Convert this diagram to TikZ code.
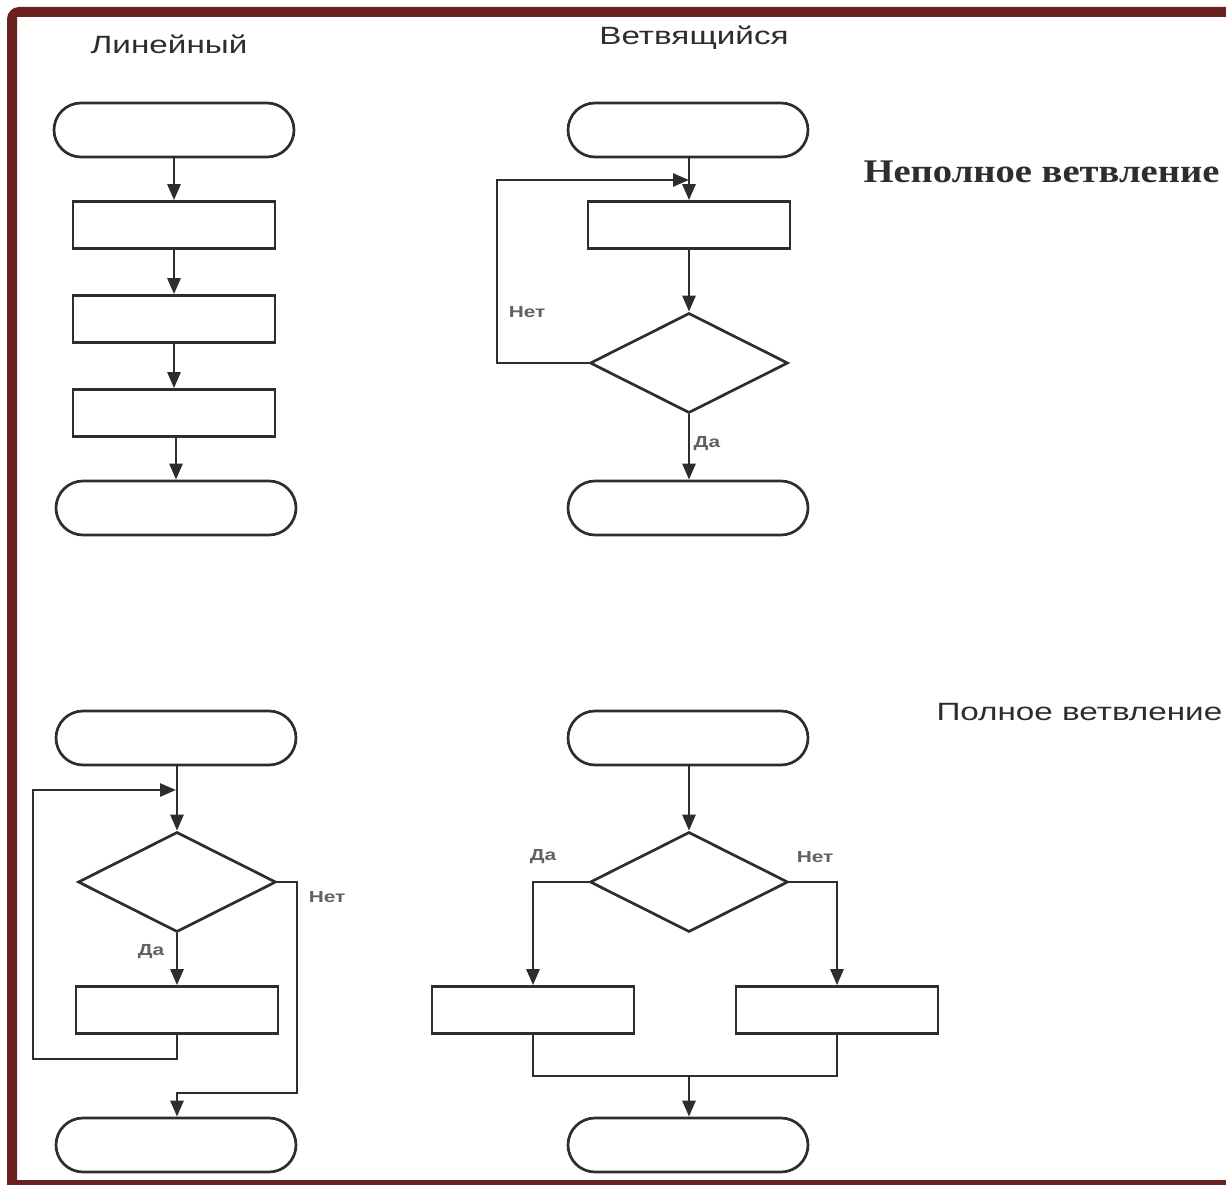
\documentclass[tikz,border=0pt]{standalone}
\usepackage{fontspec}
\setmainfont{Liberation Sans}
\newfontfamily\serifbold{Liberation Serif}
\usetikzlibrary{shapes.geometric,arrows.meta,calc}
\definecolor{framered}{RGB}{105,34,34}
\definecolor{ink}{RGB}{45,45,45}
\newcommand{\wide}[2]{\scalebox{#1}[1]{#2}}
\tikzset{
  line/.style={draw=ink, line width=2.7pt},
  arr/.style={line, -{Triangle[length=16pt,width=13pt]}},
  term/.style={line, rounded corners=27pt, minimum width=240pt, minimum height=54pt, inner sep=0pt},
  proc/.style={line, rectangle, minimum width=202pt, minimum height=47pt, inner sep=0pt},
  cond/.style={line, diamond, minimum width=198pt, minimum height=100pt, inner sep=0pt, aspect=1.98},
  title/.style={font=\fontsize{25}{30}\selectfont, text=ink},
  lab/.style={font=\bfseries\fontsize{16}{19}\selectfont, text=ink!75},
}
\begin{document}
\begin{tikzpicture}[x=1pt, y=-1pt]
\useasboundingbox (0,0) rectangle (1226,1185);
% page frame: bars on the left, top and bottom, rounded at the top-left corner
\fill[framered]
  (7,1185) -- (7,19) arc[start angle=180, end angle=90, radius=12pt]
  -- (1226,7) -- (1226,17) -- (17,17) -- (17,1180) -- (1226,1180) -- (1226,1185) -- cycle;

% headings
\node[title] (hLin) at (169,44) {\wide{1.33}{Линейный}};
\node[title] (hBr) at (694,38) {\wide{1.33}{Ветвящийся}};
\node[font=\serifbold\bfseries\fontsize{33}{38}\selectfont, text=ink, anchor=west] (hPart) at (860,172) {\wide{1.17}{Неполное ветвление}};
\node[title, anchor=west] (hFull) at (933,712) {\wide{1.33}{Полное ветвление}};

% linear
\node[term] (a1) at (174,130) {};
\node[proc] (a2) at (174,225) {};
\node[proc] (a3) at (174,319) {};
\node[proc] (a4) at (174,413) {};
\node[term] (a5) at (176,508) {};
\draw[arr] (a1) -- (a2);
\draw[arr] (a2) -- (a3);
\draw[arr] (a3) -- (a4);
\draw[arr] (a4.south -| a5.north) -- (a5);

% partial branching
\node[term] (b1) at (688,130) {};
\node[proc] (b2) at (689,225) {};
\node[cond] (b3) at (689,363) {};
\node[term] (b4) at (688,508) {};
\coordinate (bj) at (689,180);
\draw[arr] (b1.south -| b2.north) -- (b2);
\draw[arr] (b2) -- (b3);
\draw[arr] (b3.south) -- node[lab, right, pos=0.45] {\wide{1.3}{Да}} (b4.north -| b3.south);
\draw[arr] (b3.west) -- (497,363) -- (497,180) -- (bj);
\node[lab] (bno) at (527,312) {\wide{1.3}{Нет}};

% loop
\node[term] (c1) at (176,738) {};
\node[cond] (c2) at (177,882) {};
\node[proc] (c3) at (177,1010) {};
\node[term] (c4) at (176,1145) {};
\coordinate (cj) at (177,790);
\coordinate (ck) at (297,1093);
\draw[arr] (c1.south -| c2.north) -- (c2);
\draw[arr] (c2) -- (c3);
\node[lab] (cyes) at (151,952) {\wide{1.3}{Да}};
\draw[arr] (c3.south) -- (177,1059) -- (33,1059) -- (33,790) -- ($(cj)+(-1,0)$);
\draw[arr] (c2.east) -| (ck) -- (ck -| c2.south) -- (c4.north -| c2.south);
\node[lab] (cno) at (327,897) {\wide{1.3}{Нет}};

% full branching
\node[term] (d1) at (688,738) {};
\node[cond] (d2) at (689,882) {};
\node[proc] (d3) at (533,1010) {};
\node[proc] (d4) at (837,1010) {};
\node[term] (d5) at (688,1145) {};
\coordinate (dm) at (689,1076);
\draw[arr] (d1.south -| d2.north) -- (d2);
\draw[arr] (d2.west) -| (d3.north);
\draw[arr] (d2.east) -| (d4.north);
\draw[line] (d3.south) |- (dm) -| (d4.south);
\draw[arr] (dm) -- (d5.north -| dm);
\node[lab] (dyes) at (543,857) {\wide{1.3}{Да}};
\node[lab] (dno) at (815,857) {\wide{1.3}{Нет}};
\end{tikzpicture}
\end{document}
